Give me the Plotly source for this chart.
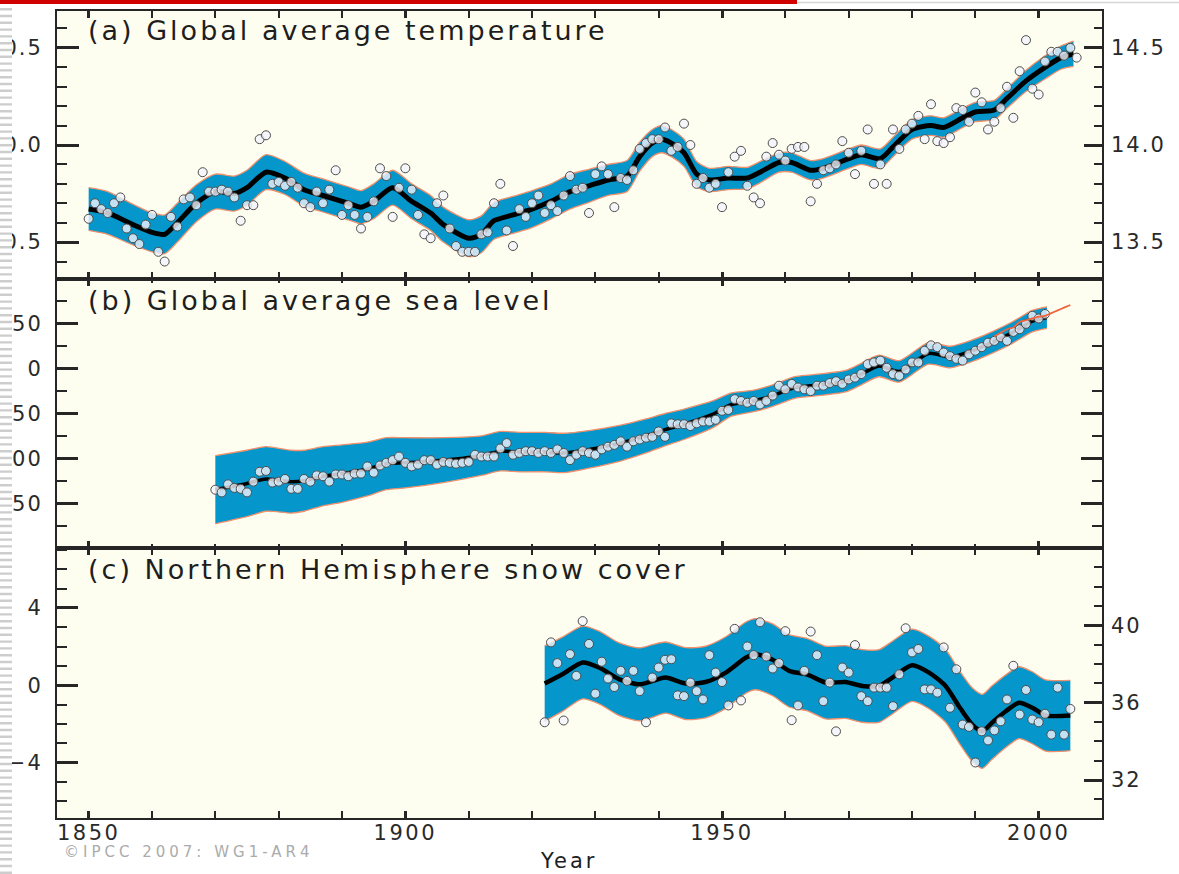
import plotly.graph_objects as go

# ---------------- data ----------------
# (a) Global average temperature: annual anomalies (deg C, vs 1961-1990)
temp_years = list(range(1850, 2007))
temp_anomaly = [
    -0.38, -0.30, -0.33, -0.35, -0.30, -0.27, -0.43, -0.48, -0.51, -0.41,
    -0.36, -0.55, -0.60, -0.37, -0.42, -0.28, -0.27, -0.31, -0.14, -0.24,
    -0.24, -0.23, -0.24, -0.27, -0.39, -0.31, -0.31, 0.03, 0.05, -0.20,
    -0.19, -0.21, -0.19, -0.22, -0.30, -0.32, -0.24, -0.30, -0.23, -0.13,
    -0.36, -0.31, -0.36, -0.43, -0.37, -0.29, -0.12, -0.16, -0.37, -0.22,
    -0.12, -0.23, -0.36, -0.46, -0.48, -0.30, -0.26, -0.43, -0.52, -0.55,
    -0.55, -0.55, -0.46, -0.45, -0.30, -0.20, -0.44, -0.52, -0.33, -0.37,
    -0.30, -0.26, -0.35, -0.31, -0.34, -0.26, -0.16, -0.23, -0.22, -0.35,
    -0.15, -0.11, -0.15, -0.32, -0.17, -0.18, -0.13, -0.02, 0.01, 0.03,
    0.03, 0.09, -0.03, -0.01, 0.11, 0.00, -0.20, -0.17, -0.22, -0.20,
    -0.32, -0.14, -0.06, -0.03, -0.21, -0.27, -0.30, -0.06, 0.01, -0.05,
    -0.08, -0.02, -0.01, -0.01, -0.29, -0.20, -0.13, -0.12, -0.10, 0.02,
    -0.04, -0.15, -0.03, 0.08, -0.20, -0.10, -0.20, 0.08, -0.02, 0.08,
    0.11, 0.15, 0.03, 0.21, 0.02, 0.01, 0.04, 0.19, 0.18, 0.12,
    0.27, 0.22, 0.08, 0.12, 0.19, 0.30, 0.14, 0.38, 0.54, 0.29,
    0.26, 0.43, 0.48, 0.48, 0.46, 0.50, 0.45,
]
temp_smooth_years = [1850, 1853, 1857, 1860, 1862, 1864, 1867, 1870, 1873, 1875,
                     1878, 1881, 1884, 1887, 1891, 1893, 1895, 1898, 1901, 1904,
                     1906, 1910, 1912, 1914, 1917, 1920, 1923, 1926, 1929, 1932,
                     1935, 1937, 1939, 1940.5, 1942, 1944, 1946, 1948, 1951, 1954,
                     1956, 1959, 1961, 1964, 1966, 1970, 1972, 1975, 1977, 1980,
                     1983, 1985, 1988, 1990, 1993, 1995, 1998, 2001, 2003.5, 2005.5]
temp_smooth = [-0.33, -0.35, -0.41, -0.45, -0.46, -0.40, -0.30, -0.24, -0.25, -0.22,
               -0.14, -0.17, -0.23, -0.26, -0.30, -0.32, -0.29, -0.22, -0.29, -0.35,
               -0.41, -0.48, -0.46, -0.39, -0.36, -0.33, -0.29, -0.24, -0.21, -0.18,
               -0.16, -0.06, 0.01, 0.03, 0.01, -0.04, -0.15, -0.18, -0.17, -0.17,
               -0.14, -0.09, -0.09, -0.13, -0.12, -0.07, -0.05, -0.07, -0.01, 0.08,
               0.10, 0.09, 0.14, 0.17, 0.18, 0.24, 0.33, 0.40, 0.45, 0.47]
temp_halfwidth = [0.11, 0.11, 0.105, 0.10, 0.10, 0.10, 0.095, 0.09, 0.09, 0.09,
                  0.09, 0.085, 0.085, 0.085, 0.085, 0.085, 0.09, 0.09, 0.09, 0.09,
                  0.09, 0.095, 0.095, 0.095, 0.095, 0.095, 0.09, 0.09, 0.085, 0.08,
                  0.08, 0.075, 0.07, 0.07, 0.07, 0.07, 0.065, 0.06, 0.06, 0.055,
                  0.055, 0.05, 0.05, 0.05, 0.05, 0.05, 0.05, 0.05, 0.05, 0.05,
                  0.05, 0.05, 0.05, 0.05, 0.05, 0.05, 0.055, 0.06, 0.06, 0.065]
temp_right_offset = 14.0   # absolute temperature = anomaly + 14.0

# (b) Global average sea level (mm, vs 1961-1990)
sea_years = list(range(1870, 2002))
sea_level = [
    -135, -138, -129, -133, -134, -138, -126, -115, -114, -127,
    -126, -123, -134, -134, -123, -126, -119, -120, -126, -118,
    -118, -120, -117, -117, -109, -116, -108, -105, -102, -98,
    -105, -109, -107, -102, -102, -107, -104, -105, -106, -105,
    -104, -96, -98, -98, -98, -89, -83, -96, -94, -92,
    -92, -94, -92, -94, -90, -94, -102, -96, -92, -94,
    -96, -90, -87, -85, -81, -87, -81, -79, -77, -76,
    -70, -76, -61, -62, -62, -64, -61, -59, -59, -57,
    -47, -46, -34, -36, -38, -36, -40, -36, -30, -19,
    -23, -17, -21, -23, -25, -19, -19, -16, -14, -17,
    -12, -10, -6, 5, 7, 9, 1, -6, -8, -1,
    7, 7, 20, 26, 24, 18, 14, 11, 9, 16,
    20, 24, 29, 31, 35, 31, 41, 44, 50, 59,
    56, 61,
]
sea_smooth_years = [1870, 1875, 1878, 1882, 1884, 1887, 1890, 1894, 1897, 1900,
                    1906, 1912, 1915, 1918, 1922, 1925, 1929, 1934, 1938, 1941,
                    1944, 1948.5, 1951.5, 1955, 1958, 1961.5, 1964, 1969.5, 1972, 1974.8,
                    1978, 1982.6, 1986, 1989.5, 1992.6, 1995.8, 1999, 2001.3]
sea_smooth = [-135, -128, -123, -126, -125, -120, -117, -112, -106, -105,
              -102, -97, -92, -93, -93, -94, -90, -83, -75, -68,
              -62, -51, -40, -36, -30, -21, -19, -14, -6, 3,
              -3, 17, 13, 20, 29, 40, 53, 57]
sea_halfwidth = [38, 37, 36, 35, 34, 33, 32, 30, 29, 28,
                 25, 22, 22, 22, 22, 22, 21, 20, 19, 18,
                 17, 15, 13, 12, 12, 12, 12, 12, 12, 12,
                 12, 12, 12, 12, 12, 12, 12, 12]
sat_years = list(range(1993, 2006))
sat_level = [36, 40, 44, 46, 52, 54, 56, 58, 59, 62, 65, 68, 71]

# (c) Northern Hemisphere snow cover (million km2, anomaly vs 1961-1990)
snow_years = list(range(1922, 2006))
snow_anomaly = [
    -1.91, 2.22, 1.15, -1.82, 1.61, 0.49, 3.32, 2.14,
    -0.43, 1.22, 0.35, -0.09, 0.75, 0.23, 0.75, -0.30, -1.91, 0.40,
    0.92, 1.32, 1.35, -0.52, -0.56, 0.14, -0.30, -0.73, 1.56, 0.66,
    0.17, -1.04, 2.92, -0.78, 2.01, 1.56, 3.26, 1.49, 0.87, 1.15,
    2.80, -1.80, -1.04, 0.75, 2.78, 1.56, -0.82, 0.14, -2.38, 0.92,
    0.66, 2.08, -0.56, -0.82, -0.12, -0.12, -0.12, -1.08, 0.57, 2.95,
    1.70, 1.88, -0.21, -0.21, -0.38, 1.96, -1.16, 0.83, -2.03, -2.15,
    -3.99, -2.38, -2.85, -2.33, -1.86, -0.73, 1.01, -1.51, -0.24, -1.77,
    -1.91, -1.47, -2.55, -0.12, -2.55, -1.22,
]
snow_smooth_years = [1922, 1924.8, 1928, 1930.6, 1933.8, 1936.9, 1939, 1941.1, 1944.3, 1947.4,
                     1950.6, 1953.8, 1955.3, 1958, 1960.6, 1963.5, 1966.4, 1969.5, 1972.1, 1974.8,
                     1976.9, 1980, 1982.7, 1985.3, 1987.4, 1989.5, 1991.1, 1992.6, 1994.8, 1996.9,
                     1999, 2001.1, 2005]
snow_smooth = [0.09, 0.57, 1.18, 0.92, 0.31, 0.05, 0.22, 0.40, 0.09, 0.17,
               0.66, 1.44, 1.61, 1.32, 0.75, 0.55, 0.14, 0.17, -0.03, -0.03,
               0.40, 1.04, 0.66, -0.03, -1.08, -2.03, -2.38, -1.94, -1.34, -0.90,
               -1.16, -1.56, -1.56]
snow_halfwidth = [1.95, 1.92, 1.88, 1.88, 1.88, 1.89, 1.88, 1.84, 1.86, 1.85,
                  1.85, 1.84, 1.84, 1.86, 1.87, 1.87, 1.88, 1.88, 1.88, 1.88,
                  1.88, 1.87, 1.87, 1.88, 1.88, 1.90, 1.91, 1.90, 1.88, 1.86,
                  1.86, 1.84, 1.82]
snow_right_offset = 36.9   # absolute snow cover = anomaly + 36.9

year_ticks = [1850, 1900, 1950, 2000]

# ---------------- styling / geometry ----------------
W, H = 1179, 874
ML, MR, MT, MB = 57, 77, 11, 56
PW, PH = W - ML - MR, H - MT - MB


def pxx(px):
    return (px - ML) / PW


def pxy(py):
    return (H - MB - py) / PH


BAND = "#0597CB"
EDGE = "#F0906C"
FR = "#262626"
BG = "#FEFEF0"
MFILL = "rgba(242,244,252,0.80)"
MLINE = "#4d4d4d"
FONT = "DejaVu Sans"
TICKFONT = dict(family=FONT, size=21, color="#2a2a2a")


def sp(t, ls=2):
    return f"<span style='letter-spacing:{ls}px'>{t}</span>"


def neg(v, fmt):
    s = format(abs(v), fmt)
    return ("\u2212" + s) if v < 0 else s


fig = go.Figure()


def add_panel(xa, ya, sy, sv, hw, py, pv, line_w, msize):
    upper = [c + h for c, h in zip(sv, hw)]
    lower = [c - h for c, h in zip(sv, hw)]
    fig.add_trace(go.Scatter(x=sy, y=upper, mode="lines", xaxis=xa, yaxis=ya,
                             line=dict(color=EDGE, width=1.3, shape="spline", smoothing=0.7),
                             hoverinfo="skip", showlegend=False))
    fig.add_trace(go.Scatter(x=sy, y=lower, mode="lines", xaxis=xa, yaxis=ya,
                             line=dict(color=EDGE, width=1.3, shape="spline", smoothing=0.7),
                             fill="tonexty", fillcolor=BAND,
                             hoverinfo="skip", showlegend=False))
    fig.add_trace(go.Scatter(x=sy, y=sv, mode="lines", xaxis=xa, yaxis=ya,
                             line=dict(color="black", width=line_w, shape="spline", smoothing=0.7),
                             hoverinfo="skip", showlegend=False))
    fig.add_trace(go.Scatter(x=py, y=pv, mode="markers", xaxis=xa, yaxis=ya,
                             marker=dict(size=msize, color=MFILL, line=dict(color=MLINE, width=1)),
                             showlegend=False))


add_panel("x", "y", temp_smooth_years, temp_smooth, temp_halfwidth,
          temp_years, temp_anomaly, 5, 9)
add_panel("x2", "y2", sea_smooth_years, sea_smooth, sea_halfwidth,
          sea_years, sea_level, 3.5, 9)
fig.add_trace(go.Scatter(x=sat_years, y=sat_level, mode="lines", xaxis="x2", yaxis="y2",
                         line=dict(color="#F0643C", width=1.8, shape="spline"),
                         showlegend=False))
add_panel("x3", "y3", snow_smooth_years, snow_smooth, snow_halfwidth,
          snow_years, snow_anomaly, 4.5, 9)
# carriers for the right-hand axes
fig.add_trace(go.Scatter(x=[], y=[], xaxis="x", yaxis="y4", showlegend=False))
fig.add_trace(go.Scatter(x=[], y=[], xaxis="x3", yaxis="y5", showlegend=False))


def xaxis_cfg(anchor, labels):
    return dict(anchor=anchor, domain=[0, 1], range=[1845, 2010],
                showline=True, mirror="allticks", linecolor=FR, linewidth=2,
                ticks="inside", ticklen=7, tickwidth=2.5, tickcolor=FR,
                tickmode="array", tickvals=year_ticks,
                ticktext=[sp(str(v), 2.5) for v in year_ticks],
                minor=dict(ticks="inside", ticklen=4, tickwidth=2, tickcolor=FR,
                           tickmode="linear", tick0=1850, dtick=10, showgrid=False),
                showticklabels=labels, tickfont=TICKFONT, ticklabelstandoff=-5,
                showgrid=False, zeroline=False, automargin=False, fixedrange=True)


def yaxis_cfg(domain, anchor, rng, vals, fmt, mdt, mirror=True, major_len=22):
    return dict(domain=domain, anchor=anchor, range=rng,
                showline=True, mirror=mirror, linecolor=FR, linewidth=2,
                ticks="inside", ticklen=major_len, tickwidth=2.5, tickcolor=FR,
                tickmode="array", tickvals=vals, ticktext=[sp(neg(v, fmt)) for v in vals],
                minor=dict(ticks="inside", ticklen=10, tickwidth=1.6, tickcolor=FR,
                           tickmode="linear", tick0=0, dtick=mdt, showgrid=False),
                tickfont=TICKFONT, ticklabelstandoff=8,
                showgrid=False, zeroline=False, automargin=False, fixedrange=True)


def right_cfg(over, anchor, rng, vals, fmt, mdt):
    return dict(overlaying=over, anchor=anchor, side="right", range=rng,
                showline=False, ticks="inside", ticklen=18, tickwidth=2.5, tickcolor=FR,
                tickmode="array", tickvals=vals, ticktext=[sp(format(v, fmt)) for v in vals],
                minor=dict(ticks="inside", ticklen=8, tickwidth=1.6, tickcolor=FR,
                           tickmode="linear", tick0=0, dtick=mdt, showgrid=False),
                tickfont=TICKFONT, ticklabelstandoff=8,
                showgrid=False, zeroline=False, automargin=False, fixedrange=True)


dom_c = [0, pxy(548)]
dom_b = [pxy(548), pxy(279)]
dom_a = [pxy(279), 1]

ya_rng = [-0.69, 0.69]
yc_rng = [-6.86, 7.10]

fig.update_layout(
    width=W, height=H,
    margin=dict(l=ML, r=MR, t=MT, b=MB, pad=0),
    paper_bgcolor="white", plot_bgcolor=BG,
    showlegend=False, hovermode=False,
    font=dict(family=FONT, color="#222"),
    xaxis=xaxis_cfg("y", False),
    xaxis2=xaxis_cfg("y2", False),
    xaxis3=xaxis_cfg("y3", True),
    yaxis=yaxis_cfg(dom_a, "x", ya_rng, [-0.5, 0.0, 0.5], ".1f", 0.1),
    yaxis2=yaxis_cfg(dom_b, "x2", [-200, 100], [-150, -100, -50, 0, 50], "d", 25,
                     mirror="ticks", major_len=21),
    yaxis3=yaxis_cfg(dom_c, "x3", yc_rng, [-4, 0, 4], "d", 1, major_len=21),
    yaxis4=right_cfg("y", "x", [ya_rng[0] + temp_right_offset, ya_rng[1] + temp_right_offset],
                     [13.5, 14.0, 14.5], ".1f", 0.1),
    yaxis5=right_cfg("y3", "x3", [yc_rng[0] + snow_right_offset, yc_rng[1] + snow_right_offset],
                     [32, 36, 40], "d", 1),
)

TITLEFONT = dict(family=FONT, size=27, color="#1e1e1e")
for label, ypx in [("(a) Global average temperature", 30),
                   ("(b) Global average sea level", 300),
                   ("(c) Northern Hemisphere snow cover", 569)]:
    fig.add_annotation(text=sp(label, 3), xref="paper", yref="paper",
                       x=pxx(86), y=pxy(ypx), xanchor="left", yanchor="middle",
                       showarrow=False, font=TITLEFONT)

fig.add_annotation(text=sp("Year", 3), xref="paper", yref="paper",
                   x=pxx(568), y=pxy(861), xanchor="center", yanchor="middle",
                   showarrow=False, font=dict(family=FONT, size=21, color="#1e1e1e"))
fig.add_annotation(text=sp("\u00a9IPCC 2007: WG1-AR4", 4), xref="paper", yref="paper",
                   x=pxx(62), y=pxy(852), xanchor="left", yanchor="middle",
                   showarrow=False, font=dict(family=FONT, size=15, color="#ababab"))

# ---------- slide decoration: red bar, thin rule, left striped margin ----------
shapes = []
shapes.append(dict(type="rect", xref="paper", yref="paper", layer="above",
                   x0=pxx(0), x1=pxx(797), y0=pxy(0), y1=pxy(4),
                   fillcolor="#D00000", line=dict(width=0)))
shapes.append(dict(type="line", xref="paper", yref="paper", layer="above",
                   x0=pxx(797), x1=pxx(1179), y0=pxy(2.5), y1=pxy(2.5),
                   line=dict(color="#D5D5D5", width=1.5)))
shapes.append(dict(type="rect", xref="paper", yref="paper", layer="above",
                   x0=pxx(0), x1=pxx(12), y0=pxy(6), y1=pxy(874),
                   fillcolor="white", line=dict(width=0)))
path = ""
yy = 8.0
while yy < 872:
    path += (f"M{pxx(0):.5f},{pxy(yy):.5f} L{pxx(12):.5f},{pxy(yy):.5f} "
             f"L{pxx(12):.5f},{pxy(yy + 2.4):.5f} L{pxx(0):.5f},{pxy(yy + 2.4):.5f} Z ")
    yy += 6.8
shapes.append(dict(type="path", xref="paper", yref="paper", layer="above", path=path,
                   fillcolor="#CDCDCD", line=dict(width=0)))
fig.update_layout(shapes=shapes)

fig.write_html("out.html", config={"displayModeBar": False},
               post_script="document.body.style.margin='0';document.body.style.overflow='hidden';")
